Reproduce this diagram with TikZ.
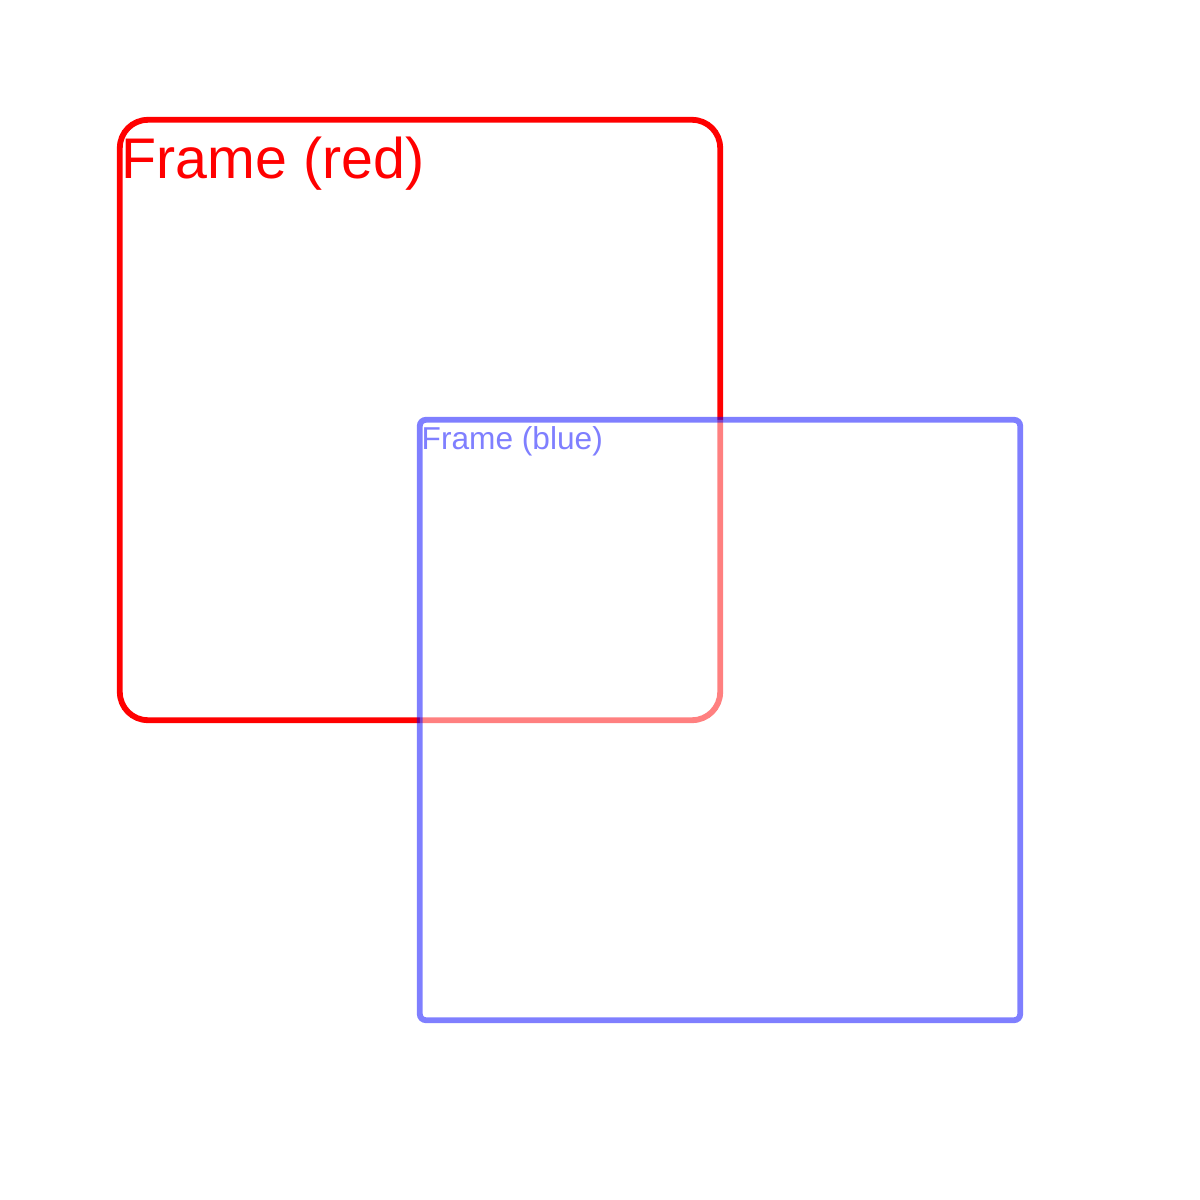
\documentclass[tikz,border=0pt]{standalone}
\usepackage{fontspec}
\setmainfont{Liberation Sans}
\begin{document}
\begin{tikzpicture}[x=0.01cm,y=-0.01cm,
  redframe/.style={draw=red, line width=1.65pt, rounded corners=0.28cm, minimum width=6cm, minimum height=6cm, inner sep=0pt},
  blueframe/.style={draw=blue, draw opacity=0.5, fill=white, fill opacity=0.5, line width=1.65pt, rounded corners=0.06cm, minimum width=6cm, minimum height=6cm, inner sep=0pt},
  redlabel/.style={text=red, font=\fontsize{16.3pt}{18pt}\selectfont, inner sep=0pt, anchor=base west},
  bluelabel/.style={text=blue, text opacity=0.5, font=\fontsize{9pt}{10pt}\selectfont, inner sep=0pt, anchor=base west}]
\useasboundingbox[fill=white] (0,0) rectangle (1200,1200);
\node[redframe] (red) at (420,420) {};
\node[redlabel] (redtext) at (121,178) {Frame (red)};
\node[blueframe] (blue) at (720,720) {};
\node[bluelabel] (bluetext) at (421,449) {Frame (blue)};
\end{tikzpicture}
\end{document}
